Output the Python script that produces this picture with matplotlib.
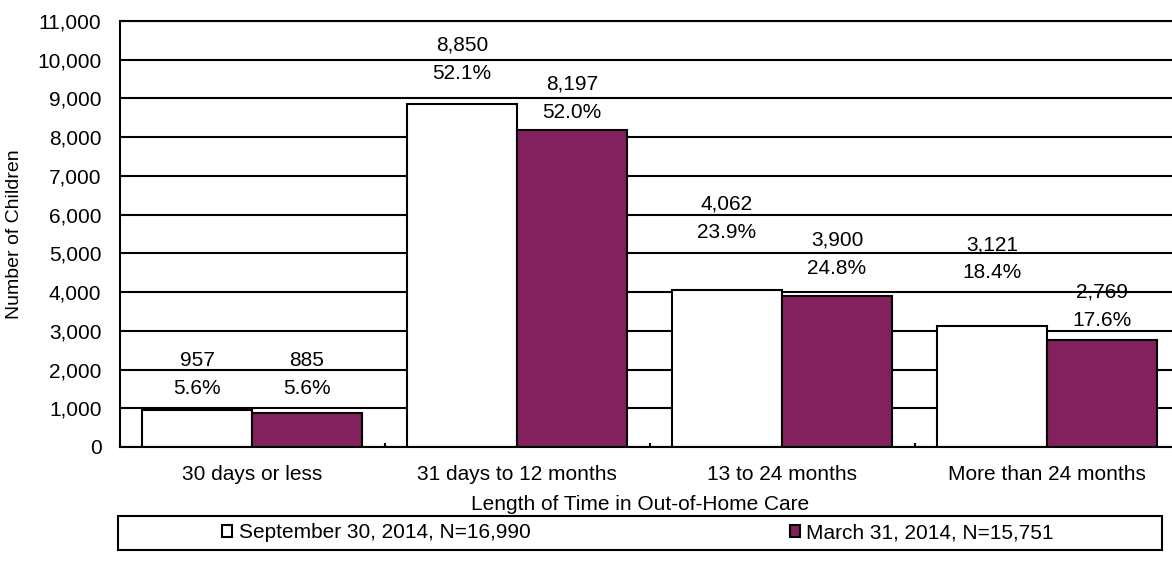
import numpy as np
import matplotlib.pyplot as plt
from matplotlib.patches import Rectangle

# --- Дані ---
categories = ['30 days or less', '31 days to 12 months', '13 to 24 months', 'More than 24 months']
sep_values = [957, 8850, 4062, 3121]
mar_values = [885, 8197, 3900, 2769]
sep_pct = ['5.6%', '52.1%', '23.9%', '18.4%']
mar_pct = ['5.6%', '52.0%', '24.8%', '17.6%']
sep_label = 'September 30, 2014, N=16,990'
mar_label = 'March 31, 2014, N=15,751'

# висота підписів (у значеннях осі), як на оригіналі
sep_label_y = [1523, 9657, 5551, 4493]
mar_label_y = [1523, 8650, 4622, 3279]

plt.rcParams['font.family'] = ['Liberation Sans', 'DejaVu Sans']
plt.rcParams['font.size'] = 15

W, H = 1172, 572
fig = plt.figure(figsize=(W / 100, H / 100), dpi=100)
ax = fig.add_axes([119.5 / W, (H - 447) / H, 1060 / W, 426 / H])

x = np.arange(len(categories))
bw = 0.415
purple = '#83205E'

ax.bar(x - bw / 2, sep_values, bw, color='white', edgecolor='black', linewidth=1.5, zorder=1)
ax.bar(x + bw / 2, mar_values, bw, color=purple, edgecolor='black', linewidth=1.5, zorder=1)

# --- Підписи ---
for xs, vals, pcts, ys in [(x - bw / 2, sep_values, sep_pct, sep_label_y),
                           (x + bw / 2, mar_values, mar_pct, mar_label_y)]:
    for xi, v, p, yl in zip(xs, vals, pcts, ys):
        ax.annotate(p, (xi, yl), ha='center', va='center', zorder=0.3)
        ax.annotate(f'{v:,}', (xi, yl), xytext=(0, 28), textcoords='offset pixels',
                    ha='center', va='center', zorder=0.3)

ax.set_xlim(-0.5, len(categories) - 0.5)
ax.set_ylim(0, 11000)
ax.set_yticks(np.arange(0, 11001, 1000))
ax.yaxis.set_major_formatter(plt.FuncFormatter(lambda v, _: f'{int(v):,}'))
ax.tick_params(axis='y', length=0, pad=13)

ax.set_xticks(x)
ax.set_xticklabels(categories)
ax.set_xticks(np.arange(-0.5, len(categories)), minor=True)
ax.tick_params(axis='x', which='major', length=0, pad=13)
ax.tick_params(axis='x', which='minor', direction='in', length=3, width=1.5)

ax.set_axisbelow(True)
ax.yaxis.grid(True, color='black', linewidth=1.5)
for s in ['left', 'bottom', 'top']:
    ax.spines[s].set_linewidth(1.5)
ax.spines['right'].set_visible(False)

fig.text(15 / W, (H - 234) / H, 'Number of Children', rotation=90, ha='center', va='center',
         fontsize=14)
fig.text(640 / W, (H - 505) / H, 'Length of Time in Out-of-Home Care', ha='center', va='center')

# --- Легенда ---
handles = [Rectangle((0, 0), 1, 1, fc='white', ec='black', lw=1.5),
           Rectangle((0, 0), 1, 1, fc=purple, ec='black', lw=1.5)]
fig.legend(handles, [sep_label, mar_label], loc='center', ncol=2,
           bbox_to_anchor=(638 / W, (H - 533) / H), frameon=False,
           handlelength=0.5, handleheight=0.5, handletextpad=0.3, columnspacing=12.45)
fig.patches.append(Rectangle((118 / W, (H - 550) / H), (1162 - 118) / W, 34 / H,
                             transform=fig.transFigure, fill=False, lw=1.5, ec='black'))

fig.savefig('out.png', dpi=100)
